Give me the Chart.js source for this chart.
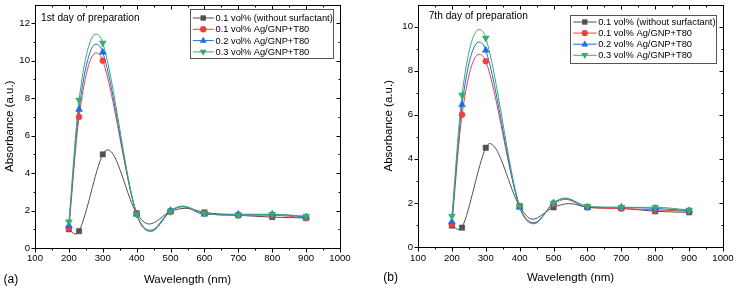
<!DOCTYPE html>
<html lang="en">
<head>
<meta charset="UTF-8">
<title>Absorbance spectra</title>
<script src="https://cdn.jsdelivr.net/npm/chart.js"></script>
<style>
  html, body { margin: 0; padding: 0; background: #fff; }
  body { width: 736px; height: 289px; position: relative; overflow: hidden; }
  .panel { position: absolute; top: 0; }
  #panelA { left: 0; }
  #panelB { left: 366px; }
</style>
</head>
<body>
<div class="panel" id="panelA"><canvas id="chartA" width="368" height="289"></canvas></div>
<div class="panel" id="panelB"><canvas id="chartB" width="370" height="289"></canvas></div>
<script>
// measured wavelengths (nm)
const wavelength = [200, 230, 300, 400, 500, 600, 700, 800, 900];
const seriesNames = ['0.1 vol% (without surfactant)', '0.1 vol% Ag/GNP+T80', '0.2 vol% Ag/GNP+T80', '0.3 vol% Ag/GNP+T80'];

// 1st day markers
const day1NoSurf = [1.0, 0.9, 5.0, 1.85, 1.95, 1.9, 1.75, 1.65, 1.6];
const day1Ag01 = [1.05, 7.0, 10.0, 1.85, 1.95, 1.85, 1.75, 1.75, 1.6];
const day1Ag02 = [1.2, 7.4, 10.45, 1.8, 2.0, 1.8, 1.8, 1.8, 1.65];
const day1Ag03 = [1.4, 7.9, 10.95, 1.8, 1.95, 1.85, 1.75, 1.8, 1.7];

// 7th day markers
const day7NoSurf = [0.97, 0.88, 4.5, 1.85, 1.8, 1.8, 1.75, 1.62, 1.57];
const day7Ag01 = [1.03, 6.0, 8.43, 1.85, 1.95, 1.8, 1.75, 1.68, 1.63];
const day7Ag02 = [1.15, 6.45, 8.92, 1.8, 2.0, 1.8, 1.8, 1.75, 1.65];
const day7Ag03 = [1.4, 6.9, 9.48, 1.85, 2.0, 1.85, 1.8, 1.8, 1.68];

// smoothing curves at the markers and turning points
const curveWlNoSurf1 = [200, 218, 230, 300, 315, 400, 437, 500, 545, 600, 700, 800, 900];
const curveWlNoSurf7 = [200, 222, 230, 300, 312, 400, 437, 500, 548, 600, 700, 800, 900];
const curveWlAg = [200, 230, 280, 300, 400, 442, 500, 535, 600, 700, 800, 900];

const day1NoSurfCurve = [1.0, 0.75, 0.9, 5.0, 5.24, 1.85, 1.28, 1.95, 2.12, 1.9, 1.75, 1.65, 1.6];
const day1Ag01Curve = [1.05, 7.0, 10.42, 10.0, 1.85, 0.9, 1.95, 2.2, 1.85, 1.75, 1.75, 1.6];
const day1Ag02Curve = [1.2, 7.4, 10.88, 10.45, 1.8, 0.95, 2.0, 2.22, 1.8, 1.8, 1.8, 1.65];
const day1Ag03Curve = [1.4, 7.9, 11.42, 10.95, 1.8, 0.88, 1.95, 2.24, 1.85, 1.75, 1.8, 1.7];

const day7NoSurfCurve = [0.97, 0.78, 0.88, 4.5, 4.69, 1.85, 1.26, 1.8, 1.97, 1.8, 1.75, 1.62, 1.57];
const day7Ag01Curve = [1.03, 6.0, 8.74, 8.43, 1.85, 1.1, 1.95, 2.16, 1.8, 1.75, 1.68, 1.63];
const day7Ag02Curve = [1.15, 6.45, 9.3, 8.92, 1.8, 1.08, 2.0, 2.2, 1.8, 1.8, 1.75, 1.65];
const day7Ag03Curve = [1.4, 6.9, 9.87, 9.48, 1.85, 1.05, 2.0, 2.22, 1.85, 1.8, 1.8, 1.68];

const colors = ['#515151', '#F14040', '#1A6FDF', '#37AD6B'];
const pointStyles = ['rect', 'circle', 'triangle', 'triangle'];
const pointRots = [0, 0, 0, 180];
const pointSizes = [3.8, 3, 4, 4];
const FONT = 'Liberation Sans, Arial, sans-serif';

function xy(xs, ys) {
    return xs.map((x, i) => ({ x: x, y: ys[i] }));
}

function drawMarker(ctx, i, x, y) {
    ctx.fillStyle = colors[i];
    ctx.beginPath();
    if (i === 0) {
        ctx.rect(x - 2.7, y - 2.7, 5.4, 5.4);
    } else if (i === 1) {
        ctx.arc(x, y, 3.2, 0, Math.PI * 2);
    } else if (i === 2) {
        ctx.moveTo(x, y - 3.8); ctx.lineTo(x + 3.4, y + 2.2); ctx.lineTo(x - 3.4, y + 2.2); ctx.closePath();
    } else {
        ctx.moveTo(x, y + 3.8); ctx.lineTo(x + 3.4, y - 2.2); ctx.lineTo(x - 3.4, y - 2.2); ctx.closePath();
    }
    ctx.fill();
}

function makeChart(id, p) {
    const datasets = [];
    // curves underneath
    p.curves.forEach((c, i) => {
        datasets.push({
            data: xy(c[0], c[1]),
            borderColor: colors[i],
            borderWidth: 1,
            pointRadius: 0,
            cubicInterpolationMode: 'monotone',
            fill: false,
            order: 7 - i
        });
    });
    p.markers.forEach((m, i) => {
        datasets.push({
            data: xy(wavelength, m),
            showLine: false,
            pointStyle: pointStyles[i],
            rotation: pointRots[i],
            pointRadius: pointSizes[i],
            backgroundColor: colors[i],
            borderColor: colors[i],
            borderWidth: 0.5,
            order: 3 - i
        });
    });

    const frame = {
        id: 'frame',
        afterDraw(chart) {
            const { ctx, chartArea: a, scales: { x, y } } = chart;
            ctx.save();
            ctx.strokeStyle = '#000';
            ctx.lineWidth = 1;
            const L = Math.round(a.left) + 0.5, R = Math.round(a.right) + 0.5;
            const T = Math.round(a.top) + 0.5, B = Math.round(a.bottom) + 0.5;
            ctx.strokeRect(L, T, R - L, B - T);
            ctx.beginPath();
            for (let v = 100; v <= 1000; v += 50) {
                const px = Math.round(x.getPixelForValue(v)) + 0.5;
                const len = v % 100 === 0 ? 4 : 2;
                ctx.moveTo(px, B); ctx.lineTo(px, B + len);
                ctx.moveTo(px, T); ctx.lineTo(px, T + len);
            }
            for (let v = 0; v < p.yMax; v += 1) {
                const py = Math.round(y.getPixelForValue(v)) + 0.5;
                const len = v % 2 === 0 ? 4 : 2;
                ctx.moveTo(L, py); ctx.lineTo(L - len, py);
                ctx.moveTo(R, py); ctx.lineTo(R - len, py);
            }
            ctx.stroke();

            // legend
            const lg = p.legend;
            const bx = Math.round(a.right - lg.inset - lg.w) + 0.5;
            const by = Math.round(a.top + lg.top) + 0.5;
            ctx.fillStyle = '#fff';
            ctx.fillRect(bx, by, lg.w, lg.h);
            ctx.strokeStyle = '#555';
            ctx.strokeRect(bx, by, lg.w, lg.h);
            ctx.font = '9.3px ' + FONT;
            ctx.textBaseline = 'middle';
            ctx.textAlign = 'left';
            seriesNames.forEach((name, i) => {
                const ry = by + lg.first + i * lg.step;
                ctx.strokeStyle = colors[i];
                ctx.beginPath();
                ctx.moveTo(bx + lg.line[0], ry);
                ctx.lineTo(bx + lg.line[1], ry);
                ctx.stroke();
                drawMarker(ctx, i, bx + lg.mark, ry);
                ctx.fillStyle = '#000';
                ctx.fillText(name, bx + lg.text, ry + 0.5);
            });

            // annotations
            ctx.fillStyle = '#000';
            ctx.font = '10.2px ' + FONT;
            ctx.fillText(p.note, p.notePos[0], p.notePos[1]);
            ctx.font = '12px ' + FONT;
            ctx.fillText(p.tag, p.tagPos[0], p.tagPos[1]);
            ctx.restore();
        }
    };

    return new Chart(document.getElementById(id), {
        type: 'line',
        data: { datasets: datasets },
        options: {
            responsive: false,
            animation: false,
            events: [],
            layout: { padding: { left: 0, right: p.right, top: 3, bottom: 0 } },
            plugins: { legend: { display: false }, tooltip: { enabled: false } },
            scales: {
                x: {
                    type: 'linear', min: 100, max: 1000,
                    grid: { display: false, drawTicks: false },
                    border: { display: false },
                    ticks: {
                        stepSize: 100, padding: p.xPad, color: '#000', autoSkip: false, maxRotation: 0,
                        font: { family: FONT, size: 9.6 },
                        callback: v => String(v)
                    },
                    title: { display: true, text: 'Wavelength (nm)', color: '#000', font: { family: FONT, size: 11.5 }, padding: { top: 0, bottom: p.xTitlePad } },
                    afterFit(s) { s.height = p.h; s.paddingLeft = 0; s.paddingRight = 0; }
                },
                y: {
                    min: 0, max: p.yMax,
                    grid: { display: false, drawTicks: false },
                    border: { display: false },
                    ticks: { stepSize: 2, padding: 5, color: '#000', font: { family: FONT, size: 9.6 } },
                    afterBuildTicks(s) { s.ticks = s.ticks.filter(t => t.value % 2 === 0 && t.value < p.yMax); },
                    title: { display: true, text: 'Absorbance (a.u.)', color: '#000', font: { family: FONT, size: 11.5 }, padding: { top: p.yTitlePad, bottom: 0 } },
                    afterFit(s) { s.width = p.w; s.paddingTop = 0; s.paddingBottom = 0; }
                }
            }
        },
        plugins: [frame]
    });
}

makeChart('chartA', {
    markers: [day1NoSurf, day1Ag01, day1Ag02, day1Ag03],
    curves: [[curveWlNoSurf1, day1NoSurfCurve], [curveWlAg, day1Ag01Curve], [curveWlAg, day1Ag02Curve], [curveWlAg, day1Ag03Curve]],
    yMax: 13, w: 35, right: 28, h: 41, xPad: 5, xTitlePad: 2, yTitlePad: 3,
    note: '1st day of preparation', notePos: [41, 18.5],
    tag: '(a)', tagPos: [3.5, 280],
    legend: { inset: 7, top: 4, w: 143, h: 49, first: 8.5, step: 11.3, line: [2.3, 23.3], mark: 12.7, text: 25 }
});

makeChart('chartB', {
    markers: [day7NoSurf, day7Ag01, day7Ag02, day7Ag03],
    curves: [[curveWlNoSurf7, day7NoSurfCurve], [curveWlAg, day7Ag01Curve], [curveWlAg, day7Ag02Curve], [curveWlAg, day7Ag03Curve]],
    yMax: 11, w: 52, right: 13, h: 42, xPad: 6, xTitlePad: 4, yTitlePad: 16,
    note: '7th day of preparation', notePos: [62.7, 16],
    tag: '(b)', tagPos: [17.3, 277.5],
    legend: { inset: 6.7, top: 10, w: 146, h: 48, first: 6.5, step: 11.1, line: [2.7, 26], mark: 14.3, text: 27.7 }
});
</script>
</body>
</html>
